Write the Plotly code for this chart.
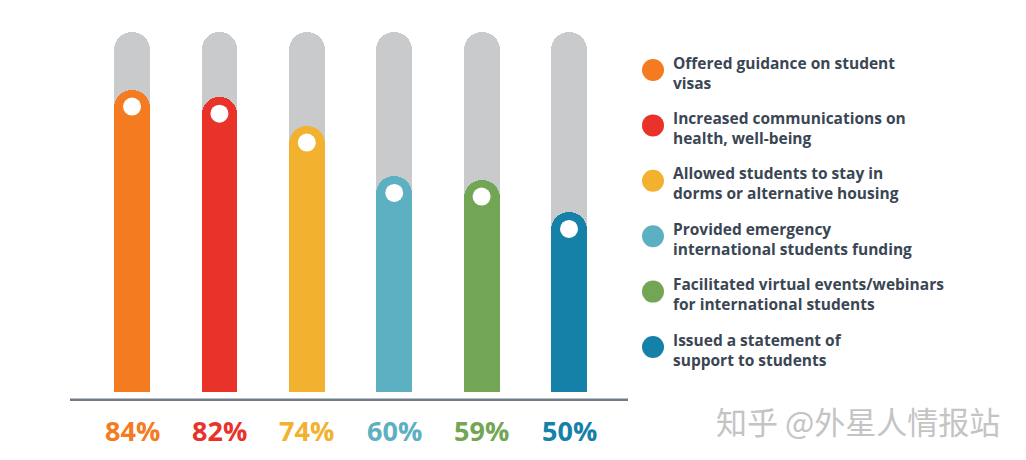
import plotly.graph_objects as go

# data
labels = [
    "Offered guidance on student<br>visas",
    "Increased communications on<br>health, well-being",
    "Allowed students to stay in<br>dorms or alternative housing",
    "Provided emergency<br>international students funding",
    "Facilitated virtual events/webinars<br>for international students",
    "Issued a statement of<br>support to students",
]
values = [84, 82, 74, 60, 59, 50]
colors = ["#F47B20", "#E8322A", "#F2B12E", "#5CB0C2", "#72A655", "#1580A8"]
track_max = [100] * len(values)
idx = list(range(len(values)))

BAR_W = 0.41
# page body has an 8px margin, so the figure is drawn 8px smaller
OFF = 8
L, T = 70 - OFF, 32 - OFF
PW, PH = 558, 369

fig = go.Figure()

# gray track behind each bar
fig.add_trace(go.Bar(
    x=idx, y=track_max, width=BAR_W,
    marker=dict(color="#c8cacc", cornerradius="50%", line=dict(width=0)),
    hoverinfo="skip", showlegend=False,
))
# coloured fill, on overlaid axes so its rounding is kept
fig.add_trace(go.Bar(
    x=idx, y=values, width=BAR_W, xaxis="x2", yaxis="y2",
    marker=dict(color=colors, cornerradius="50%", line=dict(width=0)),
    showlegend=False,
))
# white dot near the top of each bar
fig.add_trace(go.Scatter(
    x=idx, y=[v - 4.7 for v in values], mode="markers",
    xaxis="x2", yaxis="y2",
    marker=dict(size=18, color="white", line=dict(width=0)),
    hoverinfo="skip", showlegend=False,
))

# percentage labels under the baseline
for i, (v, c) in enumerate(zip(values, colors)):
    fig.add_annotation(
        x=i, y=-29 / PH, xref="x", yref="paper",
        text=f"<b>{v}%</b>", showarrow=False,
        font=dict(family="Open Sans", size=27, color=c),
        xanchor="center", yanchor="middle",
    )

# baseline
fig.add_shape(type="line", xref="paper", yref="y",
              x0=0, x1=1, y0=-2.5, y1=-2.5,
              line=dict(color="#6f7c88", width=5))

# hand-made legend on the right
for i, (lab, c) in enumerate(zip(labels, colors)):
    y_px = 70 + i * 55.4
    yp = (401 - y_px) / PH
    fig.add_shape(type="circle", xref="paper", yref="paper",
                  xsizemode="pixel", ysizemode="pixel",
                  xanchor=(653 - 70) / PW, yanchor=yp,
                  x0=-11, x1=11, y0=-11, y1=11,
                  fillcolor=c, line=dict(width=0))
    fig.add_annotation(
        x=(672 - 70) / PW, y=(401 - (y_px + 2.5)) / PH,
        xref="paper", yref="paper",
        text=f"<b>{lab}</b>", showarrow=False, align="left",
        xanchor="left", yanchor="middle", borderpad=0,
        font=dict(family="Open Sans", size=15.5, color="#3b4654"),
    )

# watermark
fig.add_annotation(
    x=(858 - 70) / PW, y=(401 - 420) / PH, xref="paper", yref="paper",
    text="知乎 @外星人情报站", showarrow=False,
    font=dict(family="Noto Sans CJK SC", size=31, color="#c4c4c4"),
    xanchor="center", yanchor="middle",
)

xr = [-0.71, 5.675]
yr = [-2.5, 100]
fig.update_layout(
    width=1026 - OFF, height=460 - OFF,
    margin=dict(l=L, r=1026 - OFF - L - PW, t=T, b=460 - OFF - T - PH),
    barmode="overlay", bargap=0,
    plot_bgcolor="white", paper_bgcolor="white",
    xaxis=dict(range=xr, visible=False, fixedrange=True),
    yaxis=dict(range=yr, visible=False, fixedrange=True),
    xaxis2=dict(range=xr, visible=False, fixedrange=True, overlaying="x"),
    yaxis2=dict(range=yr, visible=False, fixedrange=True, overlaying="y"),
    showlegend=False,
)

fig.write_html("out.html")
